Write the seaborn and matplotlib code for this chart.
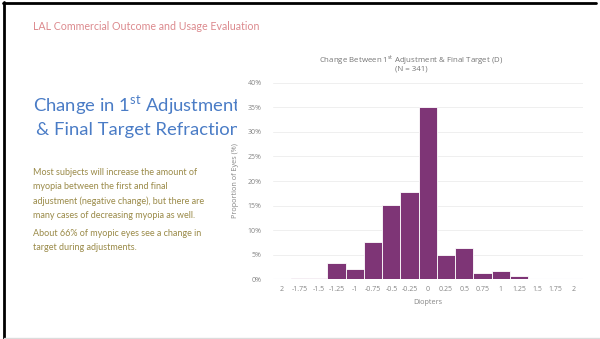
import numpy as np
import matplotlib
matplotlib.use("Agg")
import matplotlib.pyplot as plt
from matplotlib.patches import Rectangle
from matplotlib.lines import Line2D
import seaborn as sns

# bins of the change (D) and share of eyes in each bin (%)
diopters = ["-2", "-1.75", "-1.5", "-1.25", "-1", "-0.75", "-0.5", "-0.25", "0",
            "0.25", "0.5", "0.75", "1", "1.25", "1.5", "1.75", "2"]
tick_labels = ["2", "-1.75", "-1.5", "-1.25", "-1", "-0.75", "-0.5", "-0.25", "0",
               "0.25", "0.5", "0.75", "1", "1.25", "1.5", "1.75", "2"]
proportion = [0.0, 0.3, 0.3, 3.25, 2.1, 7.5, 15.1, 17.7, 35.0,
              4.9, 6.4, 1.2, 1.6, 0.7, 0.0, 0.0, 0.0]
y_ticks = [0, 5, 10, 15, 20, 25, 30, 35, 40]

sns.set_theme(style="white")
plt.rcParams["font.family"] = ["Lato", "DejaVu Sans"]
plt.rcParams["mathtext.fontset"] = "custom"
plt.rcParams["mathtext.rm"] = "Lato"

W, H = 600, 339
fig = plt.figure(figsize=(6, 3.39), dpi=100)
fig.patch.set_facecolor("white")

def fx(px):
    return px / W

def fy(py):
    return 1 - py / H

ax = fig.add_axes([fx(272.7), fy(279.3), fx(583) - fx(272.7), fy(82.7) - fy(279.3)])
ax.set_zorder(1)

sns.barplot(x=diopters, y=proportion, order=diopters, color="#7e3576",
            width=1.0, edgecolor="white", linewidth=0.6, saturation=1, ax=ax)

ax.set_xlim(-0.5, len(diopters) - 0.5)
ax.set_ylim(0, 40)
ax.set_yticks(y_ticks)
ax.set_yticklabels([f"{v}%" for v in y_ticks])
ax.set_xticks(range(len(diopters)))
ax.set_xticklabels(tick_labels)
chart_font = ["Open Sans", "DejaVu Sans"]
for lab in ax.get_xticklabels() + ax.get_yticklabels():
    lab.set_family(chart_font)
    lab.set_fontsize(5)
    lab.set_color("#858585")
ax.tick_params(axis="both", length=0)
ax.tick_params(axis="y", pad=8)
ax.tick_params(axis="x", pad=5)
ax.yaxis.grid(True, color="#ececec", linewidth=0.6)
ax.set_axisbelow(True)
for s in ax.spines.values():
    s.set_visible(False)
ax.axhline(0, color="#dfe5ef", linewidth=0.8, zorder=0.5)

ax.set_xlabel("Diopters", family=chart_font, fontsize=5.2, color="#858585", labelpad=4)
ax.set_ylabel("Proportion of Eyes (%)", family=chart_font, fontsize=5.2, color="#858585", labelpad=6)

fig.text(fx(411), fy(60), r"Change Between 1$^{\mathrm{st}}$ Adjustment & Final Target (D)",
         family=chart_font, fontsize=5.7, color="#767676", ha="center", va="center")
fig.text(fx(411), fy(69), "(N = 341)", family=chart_font, fontsize=5.7,
         color="#767676", ha="center", va="center")

# white backdrop of the pasted chart, hiding the end of the slide title
fig.patches.append(Rectangle((fx(237), fy(320)), fx(590) - fx(237), fy(40) - fy(320),
                             transform=fig.transFigure, facecolor="white",
                             edgecolor="none", zorder=0.5))

fig.text(fx(33), fy(26), "LAL Commercial Outcome and Usage Evaluation",
         fontsize=7.7, color="#dc8a8e", ha="left", va="center")
fig.text(fx(33), fy(105), r"Change in 1$^{\mathrm{st}}$ Adjustment",
         fontsize=13.3, color="#4a7cc6", ha="left", va="center", zorder=0.2)
fig.text(fx(36), fy(130), "& Final Target Refraction",
         fontsize=13.3, color="#4a7cc6", ha="left", va="center", zorder=0.2)

body1 = ("Most subjects will increase the amount of\n"
         "myopia between the first and final\n"
         "adjustment (negative change), but there are\n"
         "many cases of decreasing myopia as well.")
body2 = "About 66% of myopic eyes see a change in\ntarget during adjustments."
fig.text(fx(33), fy(168), body1, fontsize=6.5, color="#9a8a48", ha="left", va="top",
         linespacing=1.72)
fig.text(fx(33), fy(228.5), body2, fontsize=6.5, color="#9a8a48", ha="left", va="top",
         linespacing=1.72)

# slide frame
fig.lines.append(Line2D([fx(4), fx(4)], [fy(2), fy(339)], transform=fig.transFigure,
                        color="black", linewidth=2))
fig.lines.append(Line2D([fx(3), fx(596)], [fy(3), fy(3)], transform=fig.transFigure,
                        color="black", linewidth=2))
fig.lines.append(Line2D([fx(4), fx(600)], [fy(337.5), fy(337.5)], transform=fig.transFigure,
                        color="#dcdcdc", linewidth=1))

fig.savefig("out.png", dpi=100)
